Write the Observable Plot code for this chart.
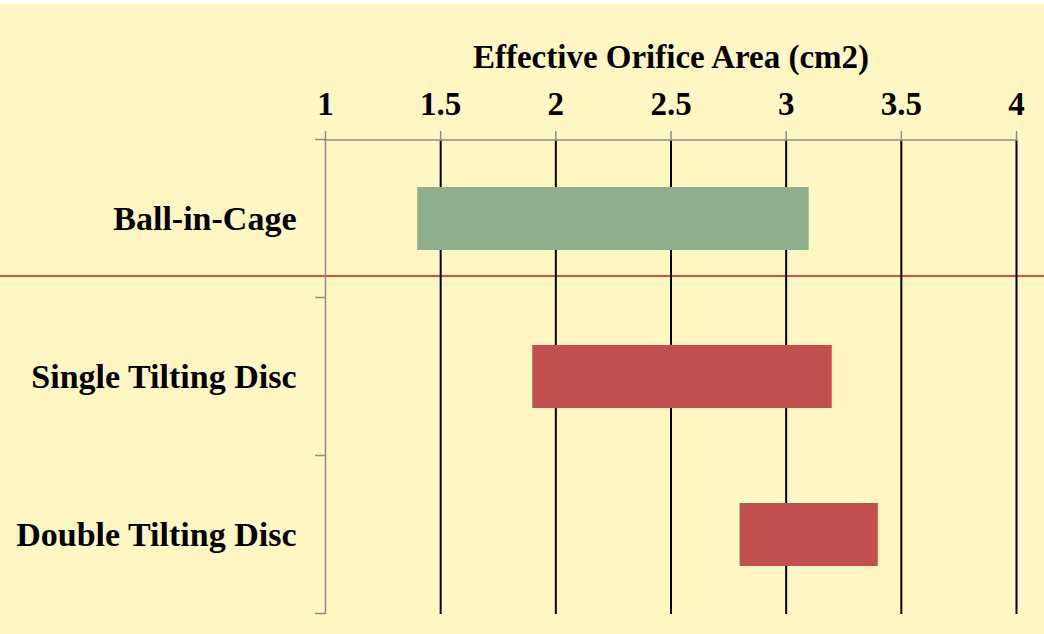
<!DOCTYPE html>
<html>
<head>
<meta charset="utf-8">
<script src="https://cdn.jsdelivr.net/npm/d3@7"></script>
<script src="https://cdn.jsdelivr.net/npm/@observablehq/plot@0.6"></script>
<style>
  html, body { margin: 0; padding: 0; background: #ffffff; }
  #wrap { position: relative; width: 1044px; height: 630px; margin-top: 4px; background: #fff7c3; }
  #wrap svg { display: block; }
</style>
</head>
<body>
<div id="wrap"></div>
<script>
// Valve types and their effective orifice area ranges (cm2)
const valves = ["Ball-in-Cage", "Single Tilting Disc", "Double Tilting Disc"];
const areaMin = [1.4, 1.9, 2.8];
const areaMax = [3.1, 3.2, 3.4];
const barColors = ["#8faf8c", "#c0504d", "#c0504d"];
const xTicks = [1, 1.5, 2, 2.5, 3, 3.5, 4];
const xTickLabels = ["1", "1.5", "2", "2.5", "3", "3.5", "4"];

const rows = valves.map((v, i) => ({valve: v, lo: areaMin[i], hi: areaMax[i], color: barColors[i]}));

// Thin decorative divider running across the whole figure
function divider(index, scales, values, dims) {
  const g = d3.create("svg:g");
  g.append("line")
    .attr("x1", 0).attr("x2", dims.width).attr("y1", 272).attr("y2", 272)
    .attr("stroke", "#d0573f").attr("stroke-width", 2);
  return g.node();
}

// Top axis line plus small ticks on the left axis at the band boundaries
function axisDecor(index, scales, values, dims) {
  const g = d3.create("svg:g");
  const top = dims.marginTop;
  const left = dims.marginLeft;
  const right = dims.width - dims.marginRight;
  g.append("line")
    .attr("x1", left - 1).attr("x2", right).attr("y1", top).attr("y2", top)
    .attr("stroke", "#8c8c8c").attr("stroke-width", 1.5);
  const y = scales.y;
  const half = y.step() / 2;
  const bounds = [y(valves[0]) + y.bandwidth() / 2 - half];
  valves.forEach(v => bounds.push(y(v) + y.bandwidth() / 2 + half));
  bounds.forEach(b => {
    g.append("line")
      .attr("x1", left - 10).attr("x2", left).attr("y1", b).attr("y2", b)
      .attr("stroke", "#8c8c8c").attr("stroke-width", 1.5);
  });
  return g.node();
}

const chart = Plot.plot({
  width: 1044,
  height: 630,
  marginTop: 136,
  marginLeft: 325,
  marginRight: 28,
  marginBottom: 20,
  style: {
    background: "transparent",
    fontFamily: "'Liberation Serif', serif",
    fontWeight: "bold",
    fontSize: "34px",
    color: "#000"
  },
  x: {domain: [1, 4]},
  y: {domain: valves, paddingInner: 0.6, paddingOuter: 0.3},
  marks: [
    divider,
    Plot.ruleX(xTicks.filter(t => t > 1), {stroke: "#000", strokeWidth: 2}),
    Plot.ruleX([xTicks[0]], {stroke: "#8c8c8c", strokeWidth: 1.5}),
    axisDecor,
    Plot.barX(rows, {y: "valve", x1: "lo", x2: "hi", fill: "color"}),
    Plot.axisX({
      anchor: "top",
      ticks: xTicks,
      tickFormat: (d, i) => xTickLabels[i],
      tickSize: 10,
      tickPadding: 16,
      stroke: "#8c8c8c",
      strokeWidth: 1.5,
      fill: "#000",
      fontSize: 33,
      label: "Effective Orifice Area (cm2)",
      labelAnchor: "center",
      labelArrow: "none",
      labelOffset: 96
    }),
    Plot.axisY({tickSize: 0, tickPadding: 29, label: null, fill: "#000"})
  ]
});
document.getElementById("wrap").appendChild(chart);
</script>
</body>
</html>
